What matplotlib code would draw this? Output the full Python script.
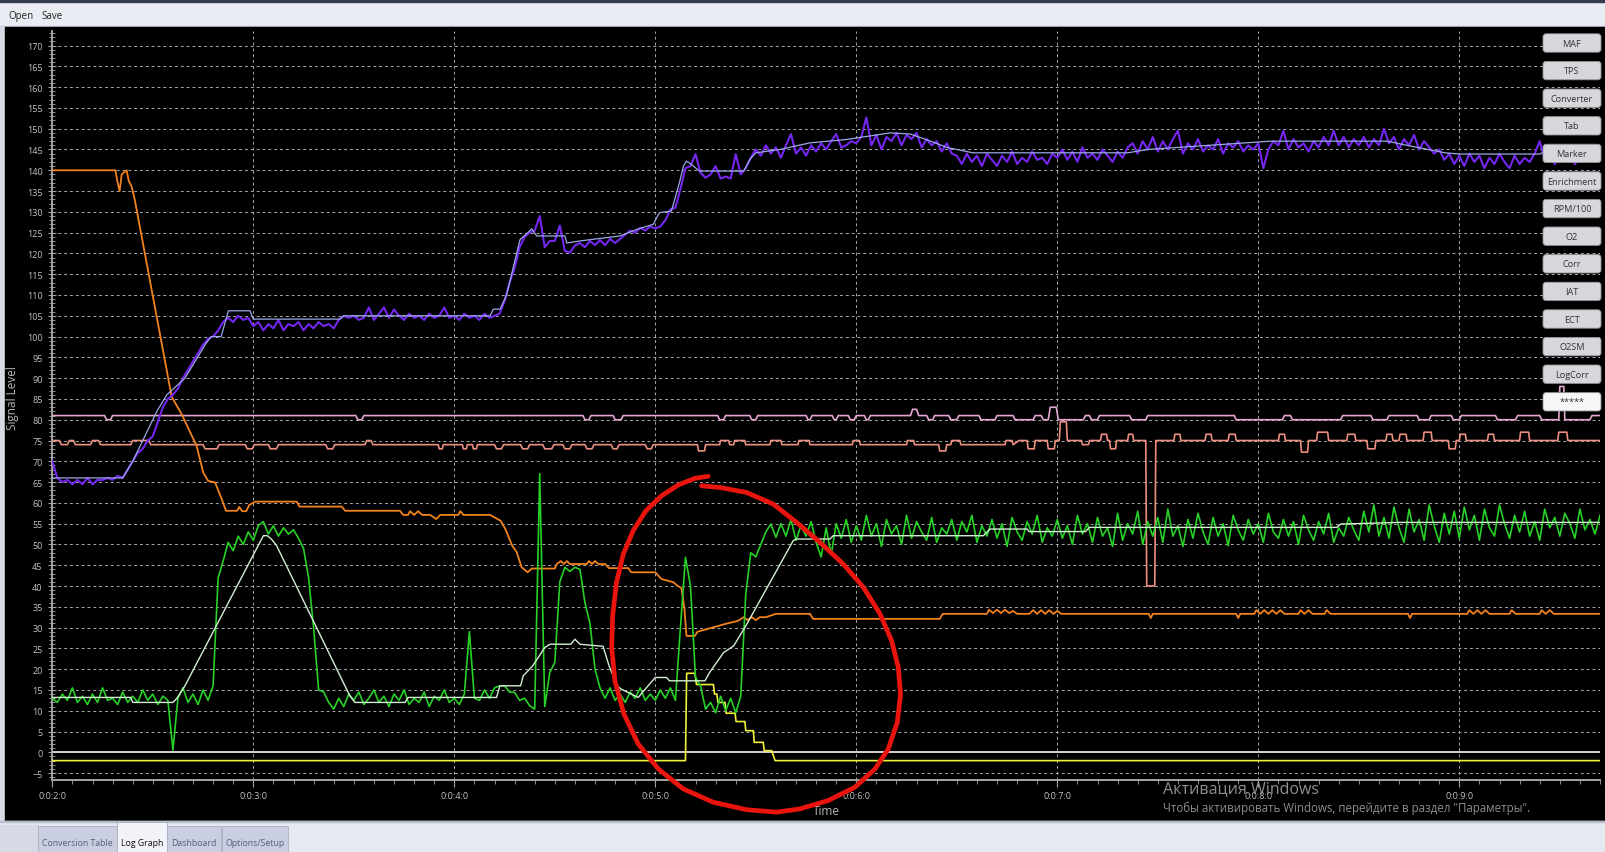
import numpy as np
import matplotlib
matplotlib.use("Agg")
import matplotlib.pyplot as plt
from matplotlib.patches import Rectangle, FancyBboxPatch
from matplotlib.ticker import MultipleLocator, FixedLocator, FuncFormatter

plt.rcParams['font.family'] = ['Open Sans', 'DejaVu Sans']

# the two noisy traces are sampled every 0.025 time units starting at 2.0
T_START = 2.0
T_STEP = 0.025

# RPM/100 (purple, noisy)
rpm_values = [
    70, 66, 65, 65.5, 64.5, 65.5, 64.5, 66, 64.5, 65.5, 65.5, 66, 65.5, 66.5, 66, 68, 70, 72, 73, 75,
    76, 79.5, 83, 85, 86, 87.5, 90, 92, 94, 96, 98, 99.5, 100, 101.5, 103.5, 104.5, 103.5, 105, 104, 104.5,
    102.5, 103.5, 101.5, 103, 102, 104, 101.5, 103, 102.5, 103.5, 101.5, 103, 102, 103.5, 102.5, 103, 102, 104, 105, 104.5,
    105, 104, 104.5, 107, 104, 105.5, 107, 104.5, 106.5, 105, 104, 105.5, 104.5, 105, 104, 105.5, 104.5, 105, 107, 104.5,
    105, 104, 105.5, 104.5, 105, 104, 105.5, 104.5, 105, 105.5, 108.5, 113, 116.5, 121.5, 124, 125, 125.5, 129, 121.5, 123,
    123, 126.7, 120.6, 120.2, 121.9, 122.5, 121.5, 123, 122, 123.2, 122, 123.5, 122.5, 123.5, 124.5, 125.5, 125, 126.2, 125.5, 126.5,
    126, 126.5, 128, 130.6, 131, 135.5, 140.5, 141, 143.9, 139.4, 138.2, 139, 141, 138, 138.5, 138, 143.9, 139, 140.5, 143,
    145, 143.5, 146, 144, 145.5, 143, 146, 148.7, 144, 145.5, 143.5, 146, 144.5, 146.5, 145, 147, 148.7, 145.5, 146, 147,
    146.5, 148, 152.7, 146, 148.5, 145, 148, 147, 149, 146, 148.5, 147.5, 149, 145.5, 147.5, 146, 147, 144.5, 146.5, 144,
    143.5, 141.5, 144, 142, 143.5, 141, 144, 142.5, 141, 143.5, 142, 144.5, 141.5, 143, 142, 144.5, 142.5, 143, 141.5, 144,
    143, 145, 142.5, 144.5, 142, 145.5, 143, 144, 142.5, 145, 143.5, 142, 144.5, 143, 145.5, 146.5, 144, 147, 145, 148,
    144.5, 147, 145, 147.5, 149.5, 144, 146.5, 145, 147.5, 144.5, 146, 145, 147.5, 144, 146.5, 145.5, 147, 144.5, 146, 145,
    146.5, 140.5, 145, 147, 146, 149.5, 145, 147.5, 145.5, 146.5, 144.5, 147, 145.5, 148, 146, 149.5, 146, 148, 145.5, 147.5,
    146, 148, 145.5, 147.5, 146, 150, 146.5, 148, 145, 147.5, 146, 148.5, 145, 147, 145.5, 144, 145, 142.5, 144, 141.5,
    143.5, 141, 144, 142, 143.5, 140.5, 143, 141.5, 144, 142, 140.5, 143.5, 141.5, 143, 142, 144, 147, 142.5, 143.5, 141.5,
    143.5, 142, 144, 141.5, 143, 142.5, 144, 142, 143,
]

# O2 sensor (green, noisy)
o2_values = [
    13, 12, 14, 12.5, 15.5, 12, 13.5, 11.5, 14, 12, 15.5, 12.5, 13, 11.5, 14.5, 12, 13.5, 12, 15, 12.5,
    14, 11.5, 13.5, 12.5, 0.5, 13, 15.5, 12, 14, 11.5, 15, 12.5, 16, 42, 46, 50.5, 48.5, 52, 50, 53,
    51, 54.5, 55.5, 52.5, 54.5, 52, 54, 52.5, 53.5, 51.5, 49, 42, 30, 15, 14.5, 12, 10.4, 13, 11, 14,
    12.5, 14.5, 11.5, 13, 15, 12, 13.5, 11, 14, 12.5, 15, 11.5, 13, 12, 14.5, 11, 13.5, 12.5, 15, 12,
    13, 11.5, 14, 29, 13, 12.5, 15, 13, 15.5, 16, 16, 14.5, 14.4, 12.5, 13, 11.2, 10.4, 67, 11, 19.2,
    21.6, 41, 44.5, 43.5, 44.5, 44, 36, 31, 20, 15.5, 13, 15.5, 12.5, 14, 12, 14.5, 13, 15.5, 12.5, 14,
    12.5, 15, 13, 15.5, 12.5, 30, 46.9, 40, 18, 16, 10.4, 12, 9.5, 13.5, 10, 13, 9.5, 13.5, 38, 48,
    47, 50, 53, 54.9, 51.7, 55, 52, 56, 51, 54.5, 52, 55.5, 50.5, 47, 54, 47.5, 55, 51.5, 56, 50.5,
    54.5, 51, 57, 52, 55, 49.5, 56, 52.5, 54.5, 50, 57, 51.5, 55.5, 53, 51, 56.5, 50.5, 54, 52.5, 56,
    51, 55.5, 53, 57, 50.5, 54.5, 52, 56, 51.5, 55, 49.5, 56.5, 53, 51, 55.5, 52.5, 57, 50.5, 54, 52,
    56, 51.5, 54.5, 50, 57, 52.5, 55, 50.5, 56.5, 52, 54, 49.5, 57.5, 51, 55, 52.5, 58, 50, 55.5, 52,
    56.5, 50.5, 58.5, 52, 54.5, 49.5, 56, 51.5, 57.5, 53, 50, 56.5, 52, 55, 49.7, 57, 53.5, 51, 56, 52.5,
    55, 50.5, 57.5, 53, 51.5, 56, 52, 55.5, 50, 57, 53.5, 51, 55.5, 52.5, 57.5, 50.5, 54, 52, 56.5, 53.5,
    51, 58, 53, 59.5, 52, 56.5, 51.5, 59, 54, 50.5, 58.5, 53, 56, 51, 59.5, 54.5, 50.5, 57.5, 52.5, 58,
    51.5, 59, 53.5, 57, 51, 58.5, 54, 52, 59.5, 55, 51.5, 57, 53, 58, 52, 55.5, 51, 58.5, 54, 56.5,
    52, 57.5, 55, 51.5, 58.5, 53.5, 56, 52.5, 57,
]

# smoothed RPM (lavender)
rpm_smooth_t = [2.0, 2.35, 2.40, 2.45, 2.52, 2.57, 2.66, 2.76, 2.79, 2.84, 2.876, 2.984, 3.0, 3.43, 3.45,
                4.178, 4.194, 4.228, 4.26, 4.327, 4.385, 4.41, 4.55, 4.56, 4.625, 4.824, 4.91, 4.99, 5.02,
                5.08, 5.12, 5.14, 5.155, 5.18, 5.22, 5.44, 5.47, 5.50, 5.62, 5.77, 5.95, 6.17, 6.27, 6.37,
                6.45, 6.58, 7.35, 7.45, 8.06, 8.64, 8.75, 8.93, 9.0, 9.40, 9.45, 9.7]
rpm_smooth_v = [66, 66, 70, 75, 82, 86, 90, 98, 100, 100, 106.2, 106.2, 104.2, 104.2, 105,
                105, 106.6, 106.6, 110, 123.3, 125.9, 124.2, 124.2, 122.5, 123, 124.2, 125.8, 127, 129.8,
                130.2, 137, 141, 142.2, 141.4, 139.8, 139.8, 142.6, 144.2, 145, 146.6, 147.4, 149, 148.7, 147,
                145.5, 144.2, 144.2, 145, 147, 147, 145.9, 144.2, 143.9, 143.9, 145, 145]

# smoothed O2 (pale green)
o2_smooth_t = [2.0, 2.39, 2.40, 2.60, 2.62, 2.66, 3.05, 3.07, 3.09, 3.116, 3.48, 3.506, 3.755, 3.77, 4.21,
               4.227, 4.33, 4.343, 4.39, 4.45, 4.476, 4.58, 4.60, 4.625, 4.74, 4.77, 4.81, 4.83, 4.915,
               4.957, 5.0, 5.056, 5.07, 5.247, 5.27, 5.305, 5.34, 5.39, 5.455, 5.686, 5.70, 5.869, 5.885,
               6.632, 6.665, 6.85, 6.86, 7.14, 7.16, 8.39, 8.41, 8.70, 9.7]
o2_smooth_v = [13.2, 13.2, 12, 12, 13, 16, 52.1, 52.1, 51.3, 49.7, 13.6, 12, 12, 13.2, 13.2,
               16, 16, 18.4, 20.8, 25.2, 26, 26, 27.2, 26, 25.5, 20.8, 16, 15.2, 13.2,
               15.6, 18, 18, 17.2, 17.2, 19.2, 21.6, 24, 25.6, 30.8, 50.9, 51.3, 51.3, 52.1,
               52.1, 53.7, 53.7, 53.1, 53.1, 54.1, 54.1, 54.9, 55.3, 55.3]

# TPS / converter (orange)
orange_t = [2.0, 2.314, 2.325, 2.335, 2.345, 2.37, 2.38, 2.395, 2.41, 2.594, 2.644, 2.718, 2.751, 2.775,
            2.81, 2.843, 2.864, 2.92, 2.93, 2.945, 2.965, 2.98, 3.01, 3.216, 3.23, 3.44, 3.457, 3.73,
            3.745, 3.77, 3.78, 3.80, 3.82, 3.84, 3.88, 3.91, 3.93, 4.02, 4.03, 4.045, 4.178, 4.23,
            4.254, 4.288, 4.31, 4.335, 4.365, 4.385, 4.50, 4.51, 4.53, 4.545, 4.56, 4.575, 4.66, 4.67,
            4.685, 4.70, 4.715, 4.75, 4.77, 4.866, 4.88, 5.0, 5.03, 5.09, 5.11, 5.13, 5.145, 5.155,
            5.197, 5.21, 5.29, 5.35, 5.41, 5.44, 5.46, 5.48, 5.50, 5.52, 5.55, 5.60, 5.77, 5.785,
            6.415, 6.43, 6.65, 6.66, 6.68, 6.70, 6.72, 6.74, 6.76, 6.78, 6.80, 6.86, 6.88, 6.90,
            6.92, 6.94, 6.96, 6.98, 7.0, 7.02, 7.455, 7.465, 7.475, 7.89, 7.90, 7.91, 7.98, 7.99,
            8.01, 8.03, 8.05, 8.07, 8.09, 8.11, 8.13, 8.20, 8.21, 8.23, 8.25, 8.27, 8.33, 8.34,
            8.36, 8.745, 8.755, 8.765, 9.04, 9.05, 9.07, 9.09, 9.11, 9.13, 9.15, 9.25, 9.26, 9.28,
            9.40, 9.41, 9.43, 9.45, 9.47, 9.7]
orange_v = [140, 140, 137, 135, 139, 140, 137.5, 136, 133, 85.5, 81.3, 73.7, 67.3, 65.3,
            64.9, 60.9, 58.1, 58.1, 59, 58, 58, 59.5, 60.3, 60.3, 59.1, 59.1, 58.1, 58.1,
            57.1, 57.1, 58, 57.1, 58, 57.1, 57.1, 56.1, 57.1, 57.1, 58, 57.1, 57.1, 55.7,
            53.7, 49.7, 48.2, 44.5, 43.3, 44.2, 44.2, 45.3, 46, 45.3, 46, 45.3, 45.3, 46,
            45.3, 46, 45.3, 45.3, 44.3, 44.3, 43.3, 43.3, 41.7, 40.9, 40.1, 39.5, 34.5, 28,
            28, 29, 30.1, 30.9, 31.6, 32.5, 31.8, 32.5, 31.8, 32.5, 32.5, 33.3, 33.3, 32.1,
            32.1, 33.3, 33.3, 34.3, 33.5, 34.3, 33.5, 34.3, 33.5, 34, 33.3, 33.3, 34.2, 33.3,
            34.2, 33.3, 34.2, 33.3, 34, 33.3, 33.3, 32.3, 33.3, 33.3, 32.3, 33.3, 33.3, 34.2,
            33.3, 34.2, 33.3, 34.2, 33.3, 34.2, 33.3, 33.3, 34.2, 33.3, 34.2, 33.3, 33.3, 34.2,
            33.3, 33.3, 32.3, 33.3, 33.3, 34.2, 33.3, 34.2, 33.3, 34.2, 33.3, 33.3, 34.2, 33.3,
            33.3, 34.2, 33.3, 34.2, 33.3, 33.3]

# ECT (pink, ~81)
pink_t = [2.0, 2.26, 2.27, 2.29, 2.30, 3.51, 3.52, 3.54, 3.55, 4.64, 4.65, 4.67, 4.68, 4.79, 4.80, 4.83,
          4.84, 5.31, 5.32, 5.34, 5.35, 5.47, 5.48, 5.50, 5.51, 5.75, 5.76, 5.77, 5.78, 5.88, 5.89,
          5.90, 5.91, 5.96, 5.97, 5.99, 6.0, 6.04, 6.05, 6.06, 6.07, 6.27, 6.28, 6.30, 6.31, 6.35,
          6.36, 6.38, 6.39, 6.46, 6.47, 6.50, 6.51, 6.61, 6.62, 6.69, 6.70, 6.78, 6.79, 6.88, 6.89,
          6.92, 6.93, 6.955, 6.965, 6.995, 7.005, 7.13, 7.14, 7.16, 7.17, 7.20, 7.21, 7.36, 7.37,
          7.44, 7.45, 7.88, 7.89, 8.12, 8.13, 8.16, 8.17, 8.41, 8.42, 8.56, 8.57, 8.64, 8.65, 8.79,
          8.80, 8.85, 8.86, 8.96, 8.97, 9.0, 9.01, 9.18, 9.19, 9.28, 9.29, 9.40, 9.41, 9.495, 9.50,
          9.52, 9.525, 9.65, 9.66, 9.7]
pink_v = [81, 81, 80, 80, 81, 81, 80, 80, 81, 81, 80, 80, 81, 81, 80, 80,
          81, 81, 80, 80, 81, 81, 80, 80, 81, 81, 80, 80, 81, 81, 80,
          80, 81, 81, 80, 80, 81, 81, 80, 80, 81, 81, 82.5, 82.5, 81, 81,
          80, 80, 81, 81, 80, 80, 81, 81, 80, 80, 81, 81, 80, 80, 81,
          81, 80, 80, 83, 83, 80, 80, 81, 81, 80, 80, 81, 81, 80,
          80, 81, 81, 80, 80, 81, 81, 80, 80, 81, 81, 80, 80, 81, 81,
          80, 80, 81, 81, 80, 80, 81, 81, 80, 80, 81, 81, 80, 80, 88,
          88, 80, 80, 81, 81]

# IAT (salmon, ~74-75)
salmon_t = [2.0, 2.035, 2.045, 2.075, 2.085, 2.105, 2.115, 2.19, 2.2, 2.23, 2.24, 2.39, 2.40, 2.48, 2.49,
            2.75, 2.76, 2.82, 2.83, 2.96, 2.97, 2.995, 3.005, 3.075, 3.085, 3.115, 3.125, 3.36, 3.37,
            3.395, 3.405, 3.555, 3.565, 3.585, 3.595, 3.92, 3.925, 3.94, 3.945, 4.04, 4.045, 4.06,
            4.065, 4.09, 4.095, 4.11, 4.115, 4.2, 4.21, 4.235, 4.245, 4.33, 4.34, 4.365, 4.375, 4.44,
            4.45, 4.485, 4.495, 4.54, 4.55, 4.575, 4.585, 4.65, 4.66, 4.685, 4.695, 4.78, 4.79, 4.81,
            4.82, 4.95, 4.96, 4.98, 4.99, 5.21, 5.215, 5.245, 5.25, 5.32, 5.325, 5.365, 5.37, 5.39,
            5.395, 5.445, 5.45, 5.57, 5.575, 5.625, 5.63, 5.71, 5.715, 5.765, 5.77, 5.98, 5.985,
            6.015, 6.02, 6.25, 6.255, 6.285, 6.29, 6.41, 6.415, 6.445, 6.45, 6.47, 6.475, 6.515,
            6.52, 6.74, 6.745, 6.775, 6.78, 6.81, 6.85, 6.855, 6.885, 6.89, 6.95, 6.955, 6.985,
            6.99, 7.01, 7.015, 7.045, 7.05, 7.12, 7.125, 7.155, 7.16, 7.215, 7.22, 7.245, 7.25,
            7.26, 7.265, 7.29, 7.295, 7.35, 7.355, 7.375, 7.38, 7.44, 7.445, 7.485, 7.49, 7.58,
            7.585, 7.61, 7.615, 7.735, 7.74, 7.765, 7.77, 7.85, 7.855, 7.885, 7.89, 8.10, 8.105,
            8.13, 8.135, 8.21, 8.215, 8.245, 8.25, 8.29, 8.295, 8.345, 8.35, 8.44, 8.445, 8.48,
            8.485, 8.54, 8.545, 8.58, 8.585, 8.635, 8.64, 8.665, 8.67, 8.70, 8.705, 8.735, 8.74,
            8.82, 8.825, 8.86, 8.865, 8.945, 8.95, 8.98, 8.985, 9.0, 9.005, 9.03, 9.035, 9.14,
            9.145, 9.17, 9.175, 9.30, 9.305, 9.345, 9.35, 9.49, 9.495, 9.535, 9.54, 9.7]
salmon_v = [75, 75, 74, 74, 75, 75, 74, 74, 75, 75, 74, 74, 75, 75, 74,
            74, 73, 73, 74, 74, 73, 73, 74, 74, 73, 73, 74, 74, 73,
            73, 74, 74, 75, 75, 74, 74, 73, 73, 74, 74, 73, 73,
            74, 74, 73, 73, 74, 74, 73, 73, 74, 74, 73, 73, 74, 74,
            73, 73, 74, 74, 73, 73, 74, 74, 73, 73, 74, 74, 73, 73,
            74, 74, 73, 73, 74, 74, 72.5, 72.5, 74, 74, 75, 75, 74, 74,
            75, 75, 74, 74, 75, 75, 74, 74, 75, 75, 74, 74, 75,
            75, 74, 74, 75, 75, 74, 74, 72.5, 72.5, 74, 74, 75, 75,
            74, 74, 75, 75, 74, 75, 75, 73, 73, 75, 75, 73, 73,
            75, 75, 79.5, 79.5, 75, 75, 74, 74, 75, 75, 76.5, 76.5, 75,
            75, 73, 73, 75, 75, 76.5, 76.5, 75, 75, 40, 40, 75, 75,
            76.5, 76.5, 75, 75, 76.5, 76.5, 75, 75, 76.5, 76.5, 75, 75, 76.5,
            76.5, 75, 75, 72.2, 72.2, 75, 75, 77, 77, 75, 75, 76.5, 76.5,
            75, 75, 73, 73, 75, 75, 76.5, 76.5, 75, 75, 76.5, 76.5, 75,
            75, 77, 77, 75, 75, 73, 73, 75, 75, 76.5, 76.5, 75, 75,
            76.5, 76.5, 75, 75, 77, 77, 75, 75, 77, 77, 75, 75]

# Enrichment (yellow staircase)
yellow_t = [2.0, 5.15, 5.156, 5.197, 5.205, 5.289, 5.295, 5.306, 5.312, 5.347, 5.352, 5.397, 5.402,
            5.446, 5.45, 5.488, 5.492, 5.537, 5.542, 5.579, 5.596, 9.7]
yellow_v = [-2, -2, 19, 19, 16.3, 16.3, 14, 14, 12, 12, 9.4, 9.4, 7.4,
            7.4, 5.2, 5.2, 2.4, 2.4, 0.4, 0.4, -2, -2]

# Marker (flat at zero)
zero_t = [2.0, 9.7]
zero_v = [0, 0]

# hand drawn red circle (annotation on top of the screenshot)
circle_t = [5.230, 5.322, 5.454, 5.587, 5.703, 5.819, 5.935, 6.035, 6.118, 6.176, 6.209, 6.220,
            6.204, 6.159, 6.093, 5.993, 5.860, 5.720, 5.603, 5.454, 5.288, 5.139, 5.015, 4.915,
            4.844, 4.799, 4.783, 4.788, 4.807, 4.841, 4.890, 4.953, 5.031, 5.114, 5.197, 5.263]
circle_v = [64.1, 63.7, 62.5, 59.7, 55.3, 50.5, 45.3, 39.7, 33.3, 26.8, 20.4, 14.0,
            7.2, 0.8, -4.0, -8.4, -11.6, -13.6, -14.4, -13.8, -12.0, -8.8, -4.0, 2.0,
            9.2, 17.2, 25.3, 32.9, 40.9, 47.7, 53.3, 58.1, 61.7, 64.3, 65.9, 66.4]

# right hand buttons and bottom tabs
button_names = ["MAF", "TPS", "Converter", "Tab", "Marker", "Enrichment", "RPM/100",
                "O2", "Corr", "IAT", "ECT", "O2SM", "LogCorr", "*****"]
tab_names = ["Conversion Table", "Log Graph", "Dashboard", "Options/Setup"]
x_major = [2, 3, 4, 5, 6, 7, 8, 9]

W, H = 1606, 853


def draw_window_frame(fig):
    """Menu bar, black panel and tab strip drawn in pixel coordinates."""
    bg = fig.add_axes([0, 0, 1, 1], zorder=0)
    bg.set_xlim(0, W)
    bg.set_ylim(H, 0)
    bg.axis("off")

    # menu bar
    bg.add_patch(Rectangle((0, 0), W, 28, color="#eaecf3"))
    bg.add_patch(Rectangle((0, 0), W, 3, color="#343b4e"))
    bg.add_patch(Rectangle((0, 26.5), W, 1.5, color="#c5c9d6"))
    bg.text(8, 16, "Open", fontsize=7, color="#222222", va="center")
    bg.text(41, 16, "Save", fontsize=7, color="#222222", va="center")

    # black graph panel
    bg.add_patch(Rectangle((0, 28), 5, 794, color="#d8dbe4"))
    bg.add_patch(Rectangle((5, 28), W - 5, 794, color="black"))

    # tab strip
    bg.add_patch(Rectangle((0, 822), W, 31, color="#e6e9f0"))
    bg.add_patch(Rectangle((0, 822), W, 1.2, color="#b8bdcc"))
    bg.add_patch(Rectangle((0, 826), 38, 27, color="#d6dae6"))
    tab_edges = [(38, 117), (117, 167), (167, 221), (222, 288)]
    for name, (x0, x1) in zip(tab_names, tab_edges):
        selected = name == "Log Graph"
        top = 823 if selected else 827
        bg.add_patch(Rectangle((x0, top), x1 - x0, H - top,
                               fc="#f2f3f8" if selected else "#c9cee0",
                               ec="#a9afc2", lw=0.6))
        bg.text((x0 + x1) / 2, 844, name, fontsize=6.3,
                color="#111111" if selected else "#56607a",
                ha="center", va="center")

    # axis titles
    bg.text(13, 398, "Signal Level", rotation=90, fontsize=8.5,
            color="#b8b8b8", ha="center", va="center")
    bg.text(826, 812, "Time", fontsize=8.5, color="#b8b8b8",
            ha="center", va="center")
    return bg


def draw_log_graph(fig):
    """The actual log traces with the grid and axes."""
    ax = fig.add_axes([52.3 / W, 72 / H, 1547.7 / W, 749 / H], zorder=1)
    ax.set_facecolor("none")
    ax.set_xlim(2.0, 9.7)
    ax.set_ylim(-6.66, 173.5)

    rpm_t = T_START + T_STEP * np.arange(len(rpm_values))
    o2_t = T_START + T_STEP * np.arange(len(o2_values))

    ax.plot(zero_t, zero_v, color="#d9cfd3", lw=1.4, zorder=2)
    ax.plot(yellow_t, yellow_v, color="#f2f23c", lw=1.2, zorder=3)
    ax.plot(pink_t, pink_v, color="#e6a6d2", lw=1.2, zorder=3)
    ax.plot(salmon_t, salmon_v, color="#ec8f80", lw=1.2, zorder=3)
    ax.plot(orange_t, orange_v, color="#f2821e", lw=1.3, zorder=4)
    ax.plot(o2_t, o2_values, color="#27d127", lw=1.2, zorder=5)
    ax.plot(o2_smooth_t, o2_smooth_v, color="#d2efd2", lw=1.0, zorder=6)
    ax.plot(rpm_t, rpm_values, color="#7526f0", lw=1.5, zorder=5)
    ax.plot(rpm_smooth_t, rpm_smooth_v, color="#9aa8e6", lw=0.9, zorder=6)

    # red freehand circle spills below the axis, so no clipping
    ax.plot(circle_t, circle_v, color="#e8140d", lw=3.4, zorder=8,
            clip_on=False, solid_capstyle="round", solid_joinstyle="round")

    # grid + ticks
    ax.xaxis.set_major_locator(FixedLocator(x_major))
    ax.xaxis.set_minor_locator(MultipleLocator(0.1))
    ax.yaxis.set_major_locator(FixedLocator(list(range(-5, 171, 5))))
    ax.yaxis.set_minor_locator(MultipleLocator(1))
    ax.xaxis.set_major_formatter(FuncFormatter(lambda v, p: f"0:0:{int(round(v))}:0"))
    ax.grid(which="major", color="#a8a8a8", linestyle=(0, (3, 3)), linewidth=0.7)
    ax.set_axisbelow(True)

    for side in ["top", "right"]:
        ax.spines[side].set_visible(False)
    for side in ["left", "bottom"]:
        ax.spines[side].set_color("#a4a4a4")
        ax.spines[side].set_linewidth(1.4)

    ax.tick_params(axis="y", which="major", direction="inout", length=6,
                   color="#a4a4a4", labelcolor="#c4c4c4", labelsize=6.5, pad=4)
    ax.tick_params(axis="y", which="minor", direction="inout", length=4, color="#a4a4a4")
    ax.tick_params(axis="x", which="major", direction="out", length=5,
                   color="#a4a4a4", labelcolor="#c4c4c4", labelsize=6.5, pad=3)
    ax.tick_params(axis="x", which="minor", direction="out", length=3, color="#a4a4a4")
    return ax


def draw_overlay(fig):
    """Buttons down the right side and the activation watermark."""
    ui = fig.add_axes([0, 0, 1, 1], zorder=3)
    ui.set_xlim(0, W)
    ui.set_ylim(H, 0)
    ui.axis("off")
    ui.set_facecolor("none")

    for i, name in enumerate(button_names):
        cy = 44 + i * 27.6
        last = name == "*****"
        ui.add_patch(FancyBboxPatch((1543, cy - 9.2), 58, 18.4,
                                    boxstyle="round,pad=0,rounding_size=3",
                                    fc="#f6f6f6" if last else "#d5d7db",
                                    ec="#8e9096", lw=0.6))
        ui.text(1572, cy, name, fontsize=6.6, color="#333333",
                ha="center", va="center")

    # watermark sits over the 0:0:8:0 label, same as in the screenshot
    ui.text(1163, 789, "Активация Windows", fontsize=11.5, color="#8e8e8e",
            ha="left", va="center")
    ui.text(1163, 808, "Чтобы активировать Windows, перейдите в раздел \"Параметры\".",
            fontsize=8.3, color="#8e8e8e", ha="left", va="center")
    return ui


def main():
    fig = plt.figure(figsize=(W / 100, H / 100), dpi=100)
    fig.patch.set_facecolor("black")
    draw_window_frame(fig)
    draw_log_graph(fig)
    draw_overlay(fig)
    fig.savefig("out.png", dpi=100, facecolor=fig.get_facecolor())


if __name__ == "__main__":
    main()
